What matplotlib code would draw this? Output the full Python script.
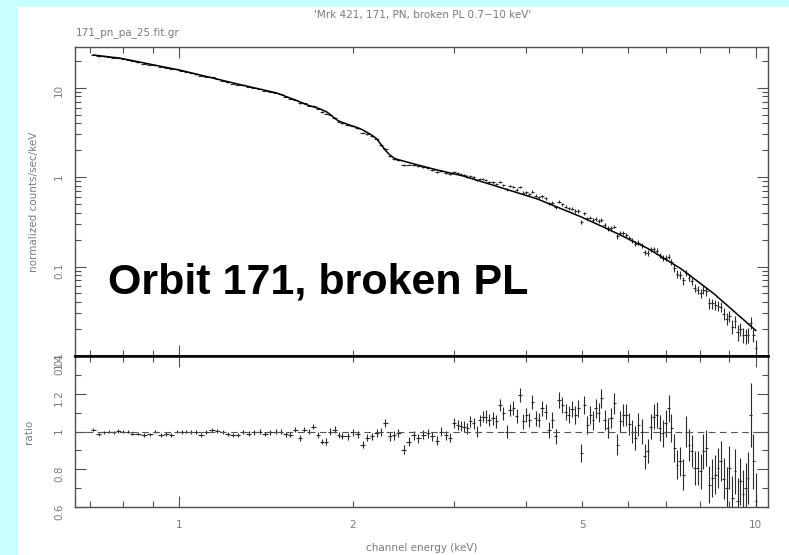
import matplotlib.pyplot as plt
import numpy as np
from matplotlib.patches import Rectangle
from matplotlib.ticker import FixedLocator, FuncFormatter

# channel energies (keV)
energy = [
    0.71, 0.725, 0.74, 0.755, 0.77, 0.785, 0.80, 0.815, 0.83, 0.85,
    0.87, 0.89, 0.91, 0.93, 0.95, 0.97, 0.99, 1.01, 1.03, 1.05,
    1.07, 1.09, 1.115, 1.14, 1.165, 1.19, 1.215, 1.24, 1.265, 1.29,
    1.32, 1.35, 1.38, 1.41, 1.44, 1.47, 1.50, 1.53, 1.56, 1.59,
    1.62, 1.65, 1.68,
    1.71, 1.74, 1.77, 1.80, 1.83, 1.86, 1.89, 1.92, 1.96, 2.00,
    2.04, 2.08, 2.12, 2.16, 2.20, 2.24, 2.28, 2.32, 2.36, 2.40,
    2.45, 2.50, 2.55, 2.60, 2.65, 2.70, 2.75, 2.80, 2.85, 2.90,
    2.95,
    3.00, 3.04, 3.08, 3.12, 3.16, 3.20, 3.24, 3.28, 3.32, 3.36,
    3.40, 3.45, 3.50, 3.55, 3.60, 3.65, 3.70, 3.75, 3.80, 3.85,
    3.90, 3.95, 4.00, 4.05, 4.10, 4.15, 4.20, 4.26, 4.32, 4.38,
    4.44, 4.50, 4.56, 4.62, 4.68, 4.74, 4.80, 4.86, 4.92, 4.98,
    5.04, 5.10, 5.16, 5.22, 5.28, 5.34, 5.40, 5.47, 5.54, 5.61,
    5.68, 5.75, 5.82, 5.89, 5.96, 6.03, 6.10, 6.18, 6.26, 6.34,
    6.42, 6.50, 6.58, 6.66, 6.74, 6.82, 6.90, 6.98, 7.06, 7.14,
    7.22, 7.30, 7.39, 7.48, 7.57, 7.66, 7.75, 7.84, 7.93, 8.02,
    8.11, 8.20, 8.30, 8.40, 8.50, 8.60, 8.70, 8.80, 8.90, 9.00,
    9.10, 9.20, 9.30, 9.40, 9.50, 9.60, 9.70, 9.80, 9.90, 10.0,
]

# folded broken power law model (counts/sec/keV)
model = [
    23.2, 22.84, 22.49, 22.15, 21.81, 21.5, 21.06, 20.56, 20.08, 19.48,
    18.90, 18.36, 17.84, 17.35, 16.88, 16.43, 16.0, 15.56, 15.09, 14.64,
    14.22, 13.81, 13.33, 12.88, 12.46, 12.05, 11.67, 11.3, 10.97, 10.66,
    10.30, 9.97, 9.65, 9.35, 9.06, 8.79, 8.41, 8.01, 7.64, 7.28,
    6.93, 6.61, 6.32,
    6.11, 5.91, 5.66, 5.39, 4.99, 4.56, 4.25, 4.09, 3.89, 3.72,
    3.57, 3.38, 3.15, 2.94, 2.69, 2.31, 1.99, 1.77, 1.63, 1.566,
    1.51, 1.46, 1.41, 1.363, 1.32, 1.278, 1.238, 1.204, 1.173, 1.143,
    1.114,
    1.087, 1.066, 1.045, 1.023, 0.998, 0.973, 0.949, 0.9265, 0.904, 0.883,
    0.8626, 0.838, 0.8144, 0.7917, 0.77, 0.749, 0.7287, 0.7092, 0.6906, 0.6727,
    0.6554, 0.6389, 0.6229, 0.6075, 0.5926, 0.5783, 0.563, 0.5424, 0.5229, 0.5043,
    0.4867, 0.4698, 0.4538, 0.4386, 0.424, 0.410, 0.3968, 0.384, 0.372, 0.359,
    0.3467, 0.3348, 0.3235, 0.3126, 0.3023, 0.2924, 0.2829, 0.2723, 0.2623, 0.2528,
    0.2436, 0.2344, 0.2257, 0.2173, 0.2094, 0.2018, 0.1946, 0.1868, 0.1794, 0.1723,
    0.1657, 0.1590, 0.1516, 0.1445, 0.1379, 0.1317, 0.1257, 0.1202, 0.1149, 0.1099,
    0.1052, 0.1008, 0.0960, 0.0907, 0.0856, 0.0808, 0.0763, 0.0721, 0.0682, 0.0645,
    0.0611, 0.0579, 0.0546, 0.0515, 0.0484, 0.0453, 0.0424, 0.0397, 0.0373, 0.0350,
    0.0329, 0.0309, 0.0291, 0.0274, 0.0258, 0.0243, 0.0229, 0.0216, 0.0204, 0.0193,
]

# data / model
ratio = [
    1.01, 0.985, 0.995, 1.0, 0.995, 1.003, 1.0, 1.0, 0.988, 0.988,
    0.982, 0.985, 1.0, 0.982, 0.985, 0.982, 1.0, 0.996, 1.0, 0.996,
    0.996, 0.982, 0.996, 1.01, 1.003, 0.996, 0.985, 0.982, 0.982, 0.996,
    0.989, 0.996, 1.0, 0.986, 0.996, 1.0, 1.0, 0.986, 0.982, 1.01,
    0.965, 1.01, 1.0,
    1.026, 0.982, 0.947, 0.947, 1.0, 1.01, 0.982, 0.974, 0.974, 0.996,
    0.986, 0.93, 0.968, 0.974, 0.991, 0.996, 1.044, 0.974, 0.979, 0.991,
    0.904, 0.947, 0.979, 0.965, 0.982, 0.991, 0.974, 0.951, 1.0, 0.979,
    0.968,
    1.044, 1.035, 1.03, 1.026, 1.018, 1.053, 1.044, 1.0, 1.06, 1.079,
    1.079, 1.061, 1.07, 1.053, 1.14, 1.096, 1.0, 1.114, 1.123, 1.08,
    1.193, 1.053, 1.088, 1.061, 1.158, 1.07, 1.061, 1.123, 1.105, 1.009,
    1.061, 0.974, 1.167, 1.14, 1.105, 1.088, 1.12, 1.088, 1.123, 0.886,
    1.14, 1.035, 1.088, 1.06, 1.123, 1.10, 1.175, 1.061, 1.018, 1.07,
    1.149, 0.93, 1.053, 1.088, 1.088, 1.04, 1.0, 0.965, 1.035, 1.0,
    0.868, 0.895, 1.026, 1.079, 1.088, 1.018, 0.991, 1.044, 1.123, 1.02,
    0.912, 0.825, 0.842, 0.772, 1.0, 0.93, 0.895, 0.807, 0.807, 0.789,
    0.895, 0.912, 0.719, 0.754, 0.772, 0.807, 0.842, 0.75, 0.702, 0.807,
    0.649, 0.789, 0.632, 0.737, 0.667, 0.70, 0.754, 1.088, 0.842, 0.632,
]

ratio_err = [
    0.008, 0.008, 0.008, 0.009, 0.008, 0.009, 0.009, 0.008, 0.009, 0.009,
    0.009, 0.009, 0.010, 0.009, 0.010, 0.010, 0.009, 0.010, 0.010, 0.010,
    0.010, 0.011, 0.010, 0.011, 0.011, 0.010, 0.011, 0.011, 0.012, 0.011,
    0.012, 0.012, 0.011, 0.012, 0.012, 0.013, 0.012, 0.013, 0.013, 0.013,
    0.014, 0.013, 0.014,
    0.014, 0.015, 0.015, 0.016, 0.016, 0.017, 0.017, 0.016, 0.018, 0.018,
    0.018, 0.019, 0.019, 0.020, 0.020, 0.021, 0.022, 0.023, 0.023, 0.022,
    0.022, 0.023, 0.023, 0.024, 0.024, 0.024, 0.025, 0.025, 0.025, 0.026,
    0.026,
    0.027, 0.026, 0.028, 0.028, 0.029, 0.028, 0.030, 0.031, 0.030, 0.031,
    0.033, 0.032, 0.033, 0.034, 0.033, 0.035, 0.035, 0.034, 0.036, 0.037,
    0.036, 0.038, 0.037, 0.039, 0.038, 0.040, 0.039, 0.041, 0.040, 0.042,
    0.042, 0.041, 0.043, 0.044, 0.043, 0.045, 0.044, 0.046, 0.045, 0.046,
    0.047, 0.048, 0.048, 0.050, 0.049, 0.051, 0.052, 0.052, 0.054, 0.053,
    0.055, 0.056, 0.056, 0.058, 0.057, 0.059, 0.060, 0.062, 0.061, 0.064,
    0.065, 0.064, 0.067, 0.068, 0.068, 0.070, 0.071, 0.072, 0.072, 0.075,
    0.076, 0.078, 0.078, 0.081, 0.082, 0.084, 0.085, 0.088, 0.089, 0.091,
    0.093, 0.095, 0.097, 0.099, 0.102, 0.104, 0.106, 0.108, 0.111, 0.114,
    0.116, 0.119, 0.122, 0.125, 0.129, 0.133, 0.137, 0.170, 0.145, 0.150,
]

title = "'Mrk 421, 171, PN, broken PL 0.7\u221210 keV'"
file_label = "171_pn_pa_25.fit.gr"
banner = "Orbit 171, broken PL"

W, H = 789, 555
GRAY = "#7a7a7a"
AX = "#505050"


def style_axis(ax):
    for s in ax.spines.values():
        s.set_color(AX)
        s.set_linewidth(1.0)
    ax.tick_params(which="both", direction="in", top=True, right=True,
                   color=AX, labelcolor=GRAY, labelsize=7.5, width=0.8)
    ax.tick_params(which="major", length=8)
    ax.tick_params(which="minor", length=4)
    ax.tick_params(axis="x", which="both", pad=9)
    ax.tick_params(axis="y", which="both", pad=8)
    ax.set_xscale("log")
    ax.set_xlim(0.66, 10.5)
    ax.xaxis.set_major_locator(FixedLocator([1, 10]))
    ax.xaxis.set_minor_locator(FixedLocator([0.7, 0.8, 0.9, 2, 3, 4, 5, 6, 7, 8, 9]))
    ax.xaxis.set_major_formatter(FuncFormatter(lambda v, p: f"{v:g}"))
    ax.xaxis.set_minor_formatter(FuncFormatter(lambda v, p: f"{v:g}" if v in (2, 5) else ""))


E = np.array(energy)
M = np.array(model)
R = np.array(ratio)
RE = np.array(ratio_err)
edges = np.concatenate([[E[0] - (E[1] - E[0]) / 2], (E[1:] + E[:-1]) / 2,
                        [E[-1] + (E[-1] - E[-2]) / 2]])
xerr = [E - edges[:-1], edges[1:] - E]

fig = plt.figure(figsize=(W / 100, H / 100), dpi=100)
fig.patch.set_facecolor("#c8ffff")
fig.add_artist(Rectangle((18 / W, 0), (W - 18) / W, (H - 7) / H,
                         transform=fig.transFigure, facecolor="white",
                         edgecolor="none", zorder=0))

ax1 = fig.add_axes([75 / W, 1 - 356 / H, 693 / W, 309 / H])
ax2 = fig.add_axes([75 / W, 1 - 507 / H, 693 / W, 151 / H])

# spectrum panel
style_axis(ax1)
ax1.errorbar(E, M * R, xerr=xerr, yerr=M * RE, fmt="none", ecolor="#2a2a2a",
             elinewidth=0.8)
ax1.plot(E, M, color="black", lw=1.1)
ax1.set_yscale("log")
ax1.set_ylim(0.01, 28.5)
ax1.yaxis.set_major_locator(FixedLocator([0.01, 0.1, 1, 10]))
ax1.yaxis.set_major_formatter(FuncFormatter(lambda v, p: f"{v:g}"))
ax1.yaxis.set_minor_locator(FixedLocator(
    [m * d for d in (0.01, 0.1, 1, 10) for m in range(2, 10)]))
ax1.yaxis.set_minor_formatter(FuncFormatter(lambda v, p: ""))
ax1.tick_params(axis="x", labelbottom=False)
ax1.tick_params(axis="y", labelrotation=90)
ax1.spines["bottom"].set_color("black")
ax1.spines["bottom"].set_linewidth(1.8)
ax1.set_ylabel("normalized counts/sec/keV", color=GRAY, fontsize=7.5, labelpad=11)

# ratio panel
style_axis(ax2)
ax2.errorbar(E, R, xerr=xerr, yerr=RE, fmt="none", ecolor="#2a2a2a", elinewidth=0.8)
ax2.axhline(1, color="#555555", lw=0.8, ls=(0, (6, 4)))
ax2.set_ylim(0.6, 1.4)
ax2.yaxis.set_major_locator(FixedLocator([0.6, 0.8, 1.0, 1.2, 1.4]))
ax2.yaxis.set_major_formatter(FuncFormatter(lambda v, p: f"{v:g}"))
ax2.yaxis.set_minor_locator(FixedLocator([0.7, 0.9, 1.1, 1.3]))
ax2.yaxis.set_minor_formatter(FuncFormatter(lambda v, p: ""))
ax2.tick_params(axis="y", labelrotation=90)
ax2.spines["top"].set_color("black")
ax2.spines["top"].set_linewidth(1.8)
ax2.set_ylabel("ratio", color=GRAY, fontsize=7.5, labelpad=14)
ax2.set_xlabel("channel energy (keV)", color=GRAY, fontsize=7.5, labelpad=10)

fig.text(423 / W, 1 - 15 / H, title, color=GRAY, fontsize=7.5, ha="center", va="center")
fig.text(76 / W, 1 - 33 / H, file_label, color=GRAY, fontsize=7.5, ha="left", va="center")
fig.text(108 / W, 1 - 283 / H, banner, fontsize=31, fontweight="bold",
         family="Liberation Sans", ha="left", va="center")

plt.savefig("out.png", dpi=100)
